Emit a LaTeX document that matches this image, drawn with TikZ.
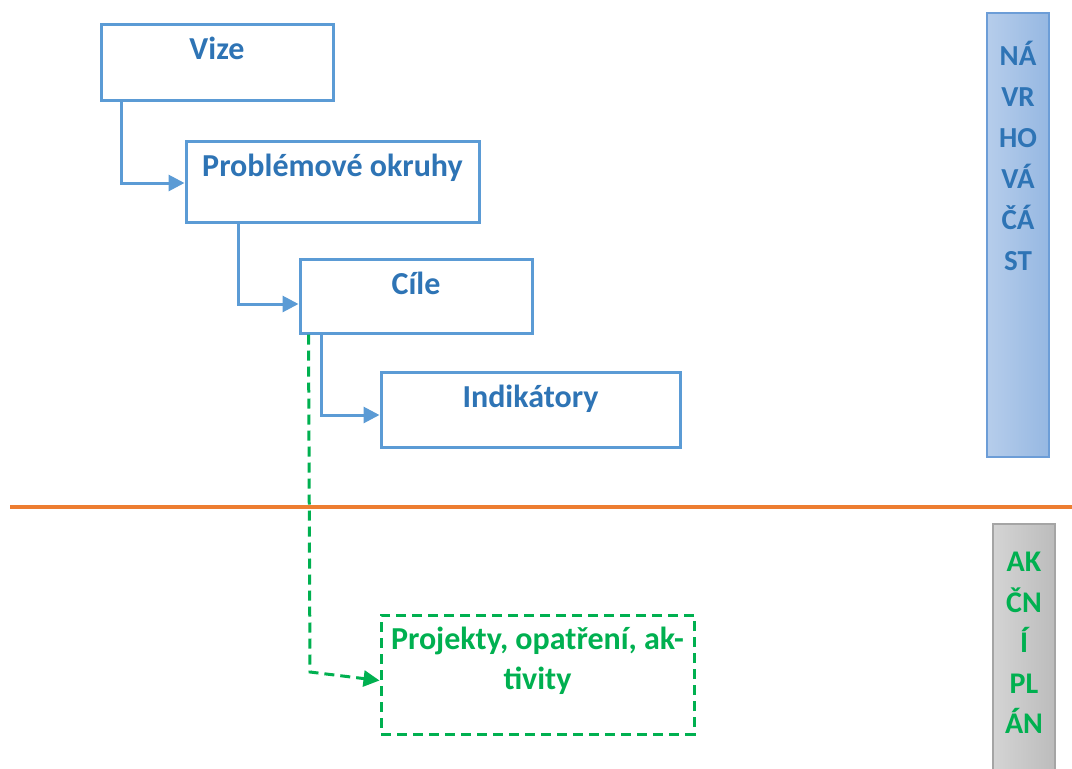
\documentclass[tikz,border=0pt]{standalone}
\usepackage{fontspec}
\setmainfont{Carlito}
\usetikzlibrary{arrows.meta}
\definecolor{boxblue}{HTML}{5B9BD5}
\definecolor{txtblue}{HTML}{2E74B5}
\definecolor{mygreen}{HTML}{00B050}
\definecolor{myorange}{HTML}{ED7D31}
\definecolor{barblueL}{HTML}{B6CDEB}
\definecolor{barblueR}{HTML}{96B8E2}
\definecolor{barblueB}{HTML}{6C9DD7}
\definecolor{bargrayL}{HTML}{D4D4D4}
\definecolor{bargrayR}{HTML}{BCBCBC}
\definecolor{bargrayB}{HTML}{A5A5A5}
\tikzset{
  bluebox/.style={draw=boxblue, line width=3pt, fill=white, rectangle,
    font=\fontsize{32}{38}\selectfont\bfseries, text=txtblue,
    inner ysep=0pt, text height=35pt},
  greenbox/.style={draw=mygreen, line width=3pt, dash pattern=on 10pt off 6pt, rectangle},
  conn/.style={draw=boxblue, line width=3pt, -{Triangle[length=16pt,width=16pt]}},
  gconn/.style={draw=mygreen, line width=3pt, dash pattern=on 10pt off 6pt, -{Triangle[length=16pt,width=16pt]}},
  bartxt/.style={align=center, anchor=north, inner sep=0pt},
}
\begin{document}
\begin{tikzpicture}[x=1pt,y=-1pt]
\useasboundingbox (0,0) rectangle (1072,769);
% separator
\draw[myorange, line width=3.5pt] (10,507) -- (1072,507);
% boxes
\node[bluebox, minimum width=232pt, text depth=41pt] (vize) at (217,62) {Vize};
\node[bluebox, minimum width=293pt, text depth=46pt] (prob) at (332.5,181.5) {Problémové okruhy};
\node[bluebox, minimum width=232pt, text depth=39pt] (cile) at (416,296) {Cíle};
\node[bluebox, minimum width=299pt, text depth=40pt] (indik) at (530.5,409.5) {Indikátory};
\node[greenbox, minimum width=313pt, minimum height=119pt] (proj) at (537.5,674.5) {};
\node[align=center, anchor=north, inner sep=0pt, text=mygreen, font=\fontsize{32}{40}\selectfont\bfseries] (projtxt) at (537.5,627) {Projekty, opatření, ak-\\tivity};
% connectors
\draw[conn] ([xshift=22pt]vize.south west) |- ([yshift=-1.5pt]prob.west);
\draw[conn] ([xshift=54pt]prob.south west) |- ([yshift=-8pt]cile.west);
\draw[conn] ([xshift=23pt]cile.south west) |- ([yshift=-5.5pt]indik.west);
\coordinate (gcorner) at (310,672);
\draw[gconn] ([xshift=10pt]cile.south west) -- (gcorner) -- ([yshift=-6pt]proj.west);
% side bars
\node[draw=barblueB, line width=1.5pt, left color=barblueL, right color=barblueR, minimum width=62pt, minimum height=444pt] (nbar) at (1018,235) {};
\node[bartxt, text=txtblue, font=\fontsize{29}{41}\selectfont\bfseries] (ntxt) at (1018,41) {NÁ\\VR\\HO\\VÁ\\ČÁ\\ST};
\node[draw=bargrayB, line width=1.5pt, left color=bargrayL, right color=bargrayR, minimum width=62pt, minimum height=252pt] (abar) at (1024,650) {};
\node[bartxt, text=mygreen, font=\fontsize{30}{40.5}\selectfont\bfseries] (atxt) at (1024,552) {AK\\ČN\\Í\\PL\\ÁN};
\end{tikzpicture}
\end{document}
